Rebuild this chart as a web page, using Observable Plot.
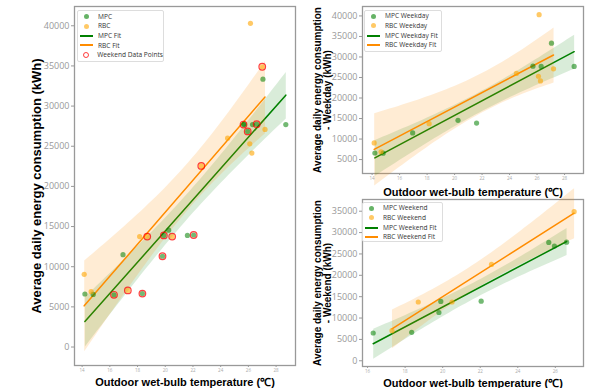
<!DOCTYPE html>
<html><head><meta charset="utf-8">
<script src="https://cdn.jsdelivr.net/npm/d3@7"></script>
<script src="https://cdn.jsdelivr.net/npm/@observablehq/plot@0.6"></script>
<style>
body{margin:0;background:#fff;}
#wrap{position:relative;width:595px;height:388px;overflow:hidden;}
.panel{position:absolute;}
.panel svg{background:transparent !important;overflow:visible;}
.panel g[aria-label="y-axis tick label"] text,.panel g[aria-label="y-axis tick label"]{fill:#999;font-size:9px;font-family:"Open Sans",sans-serif;}
.panel g[aria-label="x-axis tick label"] text,.panel g[aria-label="x-axis tick label"]{fill:#aaa;font-size:4.5px;font-family:"Open Sans",sans-serif;}
.panel g[aria-label="y-axis tick"],.panel g[aria-label="x-axis tick"]{stroke:#999;}
.panel g[aria-label="x-axis label"] text,.panel g[aria-label="x-axis label"]{fill:#000;font-size:11px;font-weight:bold;font-family:"Liberation Sans",Arial,sans-serif;}
.panel g[aria-label="y-axis label"] text,.panel g[aria-label="y-axis label"]{fill:#000;font-weight:bold;font-family:"Liberation Sans",Arial,sans-serif;}
#p1 g[aria-label="y-axis label"] text,#p1 g[aria-label="y-axis label"]{font-size:13px;}
#p2 g[aria-label="y-axis label"] text,#p2 g[aria-label="y-axis label"],#p3 g[aria-label="y-axis label"] text,#p3 g[aria-label="y-axis label"]{font-size:10px;}
.legend{position:absolute;box-sizing:border-box;border:1px solid #ddd;background:rgba(255,255,255,0.85);border-radius:2px;font-family:"Open Sans",sans-serif;font-size:6.6px;color:#333;}
.row{height:9.7px;line-height:9.7px;display:flex;align-items:center;white-space:nowrap;}
.mk{width:13px;display:flex;justify-content:center;align-items:center;margin-left:2px;margin-right:5px;height:9.7px;}
</style></head>
<body><div id="wrap"></div>
<script>
// Data
const mpcWeekdayT = [14.2, 14.8, 16.95, 20.25, 21.6, 25.7, 26.3, 27.05, 28.7];
const mpcWeekdayE = [6600, 6550, 11500, 14550, 13900, 27750, 27700, 33350, 27700];
const rbcWeekdayT = [14.15, 14.65, 18.15, 24.5, 26.1, 26.15, 26.25, 27.2];
const rbcWeekdayE = [9050, 6900, 13750, 26000, 25300, 40300, 24150, 27100];
const mpcWeekendT = [16.3, 18.35, 19.8, 19.9, 22.05, 25.65, 25.95, 26.6];
const mpcWeekendE = [6500, 6650, 11300, 13900, 13950, 27700, 26850, 27750];
const rbcWeekendT = [17.3, 18.7, 20.5, 22.6, 27.0];
const rbcWeekendE = [7050, 13750, 13750, 22550, 34900];

const xTicksAll = [14, 16, 18, 20, 22, 24, 26, 28];
const xTicksWeekend = [16, 18, 20, 22, 24, 26];
const yTicksAll = [0, 5000, 10000, 15000, 20000, 25000, 30000, 35000, 40000];
const yTicksWeekday = [5000, 10000, 15000, 20000, 25000, 30000, 35000, 40000];
const yTicksWeekend = [0, 5000, 10000, 15000, 20000, 25000, 30000, 35000];

const xLabel = "Outdoor wet-bulb temperature (℃)";

const rows = (T, E) => T.map((t, i) => ({t, e: E[i]}));
const mpcWeekday = rows(mpcWeekdayT, mpcWeekdayE);
const rbcWeekday = rows(rbcWeekdayT, rbcWeekdayE);
const mpcWeekend = rows(mpcWeekendT, mpcWeekendE);
const rbcWeekend = rows(rbcWeekendT, rbcWeekendE);
const mpcAll = mpcWeekday.concat(mpcWeekend);
const rbcAll = rbcWeekday.concat(rbcWeekend);
const weekendAll = mpcWeekend.concat(rbcWeekend);

const GREEN = "green", ORANGE = "darkorange", DOT_O = "orange";

function makePanel(o) {
  const marks = [
    Plot.frame({stroke: "#999", strokeWidth: 1.3}),
    Plot.linearRegressionY(o.mpc, {x: "t", y: "e", stroke: GREEN, fill: GREEN, fillOpacity: 0.15, strokeWidth: 1.5}),
    Plot.linearRegressionY(o.rbc, {x: "t", y: "e", stroke: ORANGE, fill: ORANGE, fillOpacity: 0.17, strokeWidth: 1.5}),
    Plot.dot(o.mpc, {x: "t", y: "e", r: 2.6, fill: GREEN, fillOpacity: 0.55}),
    Plot.dot(o.rbc, {x: "t", y: "e", r: 2.6, fill: DOT_O, fillOpacity: 0.6})
  ];
  if (o.weekend) marks.push(Plot.dot(o.weekend, {x: "t", y: "e", r: 3.3, stroke: "red", strokeOpacity: 0.75, strokeWidth: 1.2, fill: "none"}));
  return Plot.plot({
    width: o.width, height: o.height,
    marginLeft: o.mL, marginRight: o.mR, marginTop: o.mT, marginBottom: o.mB,
    style: {background: "transparent"},
    x: {domain: o.xDomain, ticks: o.xTicks, tickSize: 2, tickPadding: 1.5, label: xLabel, labelAnchor: "center", labelOffset: o.xLabelOffset, labelArrow: false, tickFormat: "d"},
    y: {domain: o.yDomain, ticks: o.yTicks, tickSize: 3, tickPadding: 2, label: o.yLabel, labelAnchor: "center", labelOffset: o.yLabelOffset, labelArrow: false, tickFormat: "d"},
    marks
  });
}

function legend(items, pos) {
  const box = document.createElement("div");
  box.className = "legend";
  Object.assign(box.style, {left: pos.left + "px", top: pos.top + "px", width: pos.width + "px", height: pos.height + "px", paddingTop: pos.pad + "px"});
  for (const it of items) {
    const r = document.createElement("div"); r.className = "row";
    const m = document.createElement("span"); m.className = "mk";
    const s = document.createElement("span");
    s.style.display = "block";
    if (it.type === "dot") Object.assign(s.style, {width: "5px", height: "5px", borderRadius: "50%", background: it.color, opacity: 0.6});
    else if (it.type === "line") Object.assign(s.style, {width: "13px", height: "2px", background: it.color});
    else Object.assign(s.style, {width: "4.5px", height: "4.5px", borderRadius: "50%", border: "1.1px solid rgba(255,0,0,0.75)"});
    m.appendChild(s); r.appendChild(m);
    const tx = document.createElement("span"); tx.textContent = it.label; r.appendChild(tx);
    box.appendChild(r);
  }
  return box;
}

const wrap = document.getElementById("wrap");
function place(id, el, left, top) {
  const d = document.createElement("div"); d.className = "panel"; d.id = id;
  d.style.left = left + "px"; d.style.top = top + "px";
  d.appendChild(el); wrap.appendChild(d);
}

place("p1", makePanel({width: 300, height: 388, mL: 74, mR: 5, mT: 6, mB: 23,
  xDomain: [13.45, 29.4], yDomain: [-2300, 42400], xTicks: xTicksAll, yTicks: yTicksAll,
  yLabel: "Average daily energy consumption (kWh)", yLabelOffset: 43, xLabelOffset: 20,
  mpc: mpcAll, rbc: rbcAll, weekend: weekendAll}), 0, 0);

place("p2", makePanel({width: 295, height: 197, mL: 62, mR: 12, mT: 6, mB: 24,
  xDomain: [13.3, 29.38], yDomain: [1600, 42300], xTicks: xTicksAll, yTicks: yTicksWeekday,
  yLabel: "Average daily energy consumption\n- Weekday (kWh)", yLabelOffset: 49, xLabelOffset: 22,
  mpc: mpcWeekday, rbc: rbcWeekday}), 300, 0);

place("p3", makePanel({width: 295, height: 195, mL: 62, mR: 12, mT: 6, mB: 22,
  xDomain: [15.73, 27.5], yDomain: [-1340, 37740], xTicks: xTicksWeekend, yTicks: yTicksWeekend,
  yLabel: "Average daily energy consumption\n- Weekend (kWh)", yLabelOffset: 49, xLabelOffset: 20,
  mpc: mpcWeekend, rbc: rbcWeekend}), 300, 193);

wrap.appendChild(legend([
  {type: "dot", color: GREEN, label: "MPC"},
  {type: "dot", color: DOT_O, label: "RBC"},
  {type: "line", color: GREEN, label: "MPC Fit"},
  {type: "line", color: ORANGE, label: "RBC Fit"},
  {type: "ring", label: "Weekend Data Points"}
], {left: 77, top: 10, width: 87, height: 52, pad: 0.5}));

wrap.appendChild(legend([
  {type: "dot", color: GREEN, label: "MPC Weekday"},
  {type: "dot", color: DOT_O, label: "RBC Weekday"},
  {type: "line", color: GREEN, label: "MPC Weekday Fit"},
  {type: "line", color: ORANGE, label: "RBC Weekday Fit"}
], {left: 364, top: 10, width: 78, height: 42, pad: 0.3}));

wrap.appendChild(legend([
  {type: "dot", color: GREEN, label: "MPC Weekend"},
  {type: "dot", color: DOT_O, label: "RBC Weekend"},
  {type: "line", color: GREEN, label: "MPC Weekend Fit"},
  {type: "line", color: ORANGE, label: "RBC Weekend Fit"}
], {left: 362, top: 202, width: 81, height: 40, pad: 0.3}));
</script></body></html>
